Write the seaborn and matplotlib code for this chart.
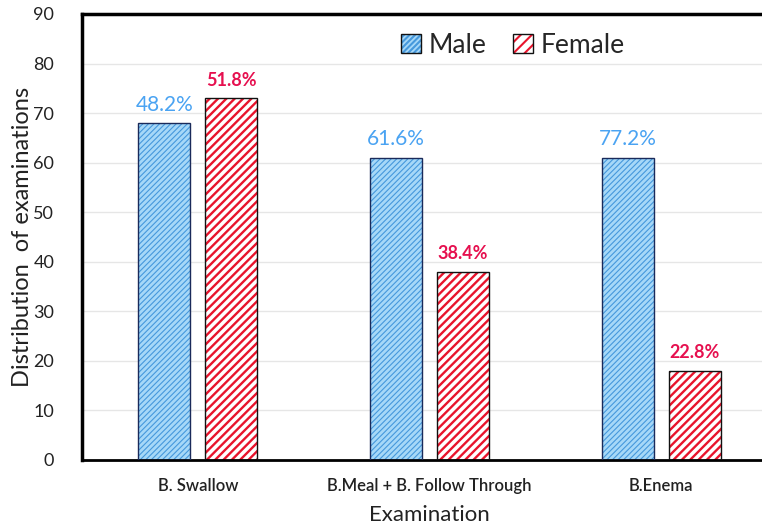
import matplotlib
matplotlib.use("Agg")
import matplotlib.pyplot as plt
from matplotlib.patches import Patch, Rectangle
from matplotlib.legend_handler import HandlerTuple
import seaborn as sns
import pandas as pd

# Examination counts by sex
examinations = ["B. Swallow", "B.Meal + B. Follow Through", "B.Enema"]
male_counts = [68, 61, 61]
female_counts = [73, 38, 18]
male_pct = ["48.2%", "61.6%", "77.2%"]
female_pct = ["51.8%", "38.4%", "22.8%"]
sexes = ["Male", "Female"]

df = pd.DataFrame({
    "Examination": examinations * 2,
    "Sex": ["Male"] * 3 + ["Female"] * 3,
    "Count": male_counts + female_counts,
})

sns.set_theme(style="white")
plt.rcParams["font.family"] = ["Lato", "DejaVu Sans"]

fig = plt.figure(figsize=(7.62, 5.25), dpi=100)
ax = fig.add_axes([82 / 762, 65 / 525, 695 / 762, 446 / 525])

male_face, male_hatch = "#a6d8f8", "#4598dc"
female_face, female_hatch = "#ffffff", "#e8142c"

sns.barplot(data=df, x="Examination", y="Count", hue="Sex", hue_order=sexes,
            order=examinations, width=0.578, gap=0.225, dodge=True,
            palette={"Male": male_face, "Female": female_face},
            legend=False, ax=ax, saturation=1)

styles = {
    "Male": dict(face=male_face, hatch="//////", hcol=male_hatch, hlw=0.8, edge="#1a2a5a",
                 legend_hatch="//////"),
    "Female": dict(face=female_face, hatch="////", hcol=female_hatch, hlw=1.7, edge="#111111",
                   legend_hatch="///"),
}

bars = ax.patches
for i, patch in enumerate(bars[:6]):
    sex = sexes[i // 3]
    st = styles[sex]
    patch.set_facecolor(st["face"])
    patch.set_edgecolor(st["hcol"])
    patch.set_hatch(st["hatch"])
    patch.set_hatch_linewidth(st["hlw"])
    patch.set_linewidth(0)
    outline = Rectangle(patch.get_xy(), patch.get_width(), patch.get_height(),
                        fill=False, edgecolor=st["edge"], linewidth=1.0, zorder=3)
    ax.add_patch(outline)

# Percentage labels above the bars
for i, patch in enumerate(bars[:3]):
    ax.annotate(male_pct[i], (patch.get_x() + patch.get_width() / 2, patch.get_height()),
                xytext=(0, 6), textcoords="offset points", ha="center", va="bottom",
                fontsize=15, color="#4aa3f2")
for i, patch in enumerate(bars[3:6]):
    ax.annotate(female_pct[i], (patch.get_x() + patch.get_width() / 2, patch.get_height()),
                xytext=(0, 7), textcoords="offset points", ha="center", va="bottom",
                fontsize=13, fontweight="bold", color="#e6104f")

ax.set_xlim(-0.5, 2.5)
ax.set_ylim(0, 90)
ax.set_yticks(range(0, 91, 10))
ax.yaxis.grid(True, color="#e6e6e6", linewidth=1.0)
ax.set_axisbelow(True)

for side in ["left", "top"]:
    ax.spines[side].set_linewidth(2.5)
    ax.spines[side].set_color("black")
ax.spines["bottom"].set_linewidth(2.0)
ax.spines["bottom"].set_color("black")
ax.spines["right"].set_visible(False)

ax.tick_params(axis="both", length=0)
ax.tick_params(axis="y", labelsize=13, pad=20, labelcolor="#222222")
ax.tick_params(axis="x", labelsize=12, pad=13, labelcolor="#222222")
for lbl in ax.get_xticklabels():
    lbl.set_fontweight("semibold")

ax.set_xlabel("Examination", fontsize=16, labelpad=8, color="#222222")
ax.set_ylabel("Distribution  of examinations", fontsize=17, labelpad=0, color="#222222")

# Legend swatches: hatched fill with a dark outline drawn over it
handles = []
for sex in sexes:
    st = styles[sex]
    fill = Patch(facecolor=st["face"], edgecolor=st["hcol"], hatch=st["legend_hatch"], linewidth=0)
    border = Patch(facecolor="none", edgecolor="#111111", linewidth=1.0)
    handles.append((fill, border))

leg = ax.legend(handles, sexes, loc="center", bbox_to_anchor=(0.62, 0.930), ncol=2,
                frameon=False, fontsize=19, handlelength=0.75, handleheight=0.75,
                handletextpad=0.3, columnspacing=1.0,
                handler_map={tuple: HandlerTuple(ndivide=1, pad=0)})
for artist in leg.findobj(Rectangle):
    if artist.get_hatch():
        artist.set_hatch_linewidth(1.5)

fig.savefig("out.png", dpi=100)
